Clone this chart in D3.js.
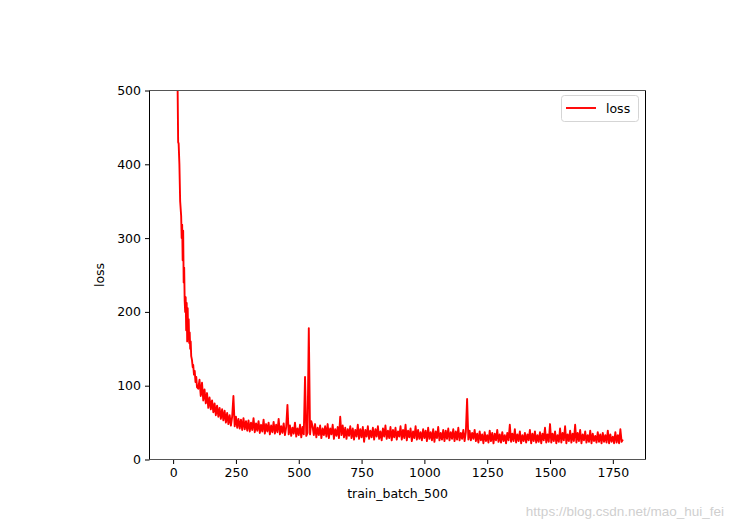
<!DOCTYPE html>
<html><head><meta charset="utf-8">
<script src="https://cdn.jsdelivr.net/npm/d3@7"></script>
<style>body{margin:0;background:#fff}svg{display:block}text{font-family:"DejaVu Sans",sans-serif}</style>
</head><body>
<svg id="c" width="733" height="528"></svg>
<script>
// early steep part (explicit batch indices)
const earlyBatch = [0,10,18,20,22,25,28,32,34,36,38,40,42,44,46,48,50,52,54,56,58,60,62,64,66,68,70,72,75,78,80,83,86,89,92,95];
const earlyLoss  = [900,620,500,430,428,400,350,330,300,318,270,310,240,260,215,200,220,175,212,160,205,165,190,158,172,150,160,140,135,125,128,115,120,105,112,98];
// batches 100..1790, step 5
const laterStart = 100, laterStep = 5;
const laterLoss = [
 96,108,86,104,80,95,76,90,70,84,68,80,64,76,60,73,58,70,55,68,
 53,66,50,63,48,60,46,58,86,45,58,43,55,42,54,40,56,41,52,39,
 53,38,50,40,56,37,49,39,52,36,47,38,54,35,48,38,50,34,46,37,
 51,35,47,37,55,34,45,36,49,33,44,74,34,46,32,43,35,50,31,42,
 33,47,30,44,34,112,32,36,178,34,52,45,33,48,30,43,33,46,29,42,
 33,45,31,48,29,42,34,47,28,41,32,44,29,58,33,46,30,43,28,41,
 32,45,29,42,27,40,31,47,28,41,30,44,24,40,31,45,28,39,30,43,
 27,41,31,45,28,38,26,42,31,46,28,39,29,44,26,40,30,43,27,38,
 31,45,27,40,29,47,26,39,30,42,25,38,29,45,27,40,28,37,26,41,
 29,39,25,43,28,37,26,41,24,38,29,44,26,36,27,40,25,39,28,42,
 26,37,28,41,25,38,27,43,26,36,28,40,25,37,82,27,39,26,36,28,
 40,25,35,23,38,26,34,22,37,25,33,23,39,25,36,22,35,26,40,24,
 34,23,37,25,33,22,36,26,47,24,35,25,41,23,34,25,38,22,33,25,
 36,23,34,26,40,22,35,25,38,23,33,24,37,22,35,26,43,23,34,24,
 48,23,35,25,38,22,33,24,42,23,36,26,45,22,34,25,39,23,35,25,
 47,23,36,25,40,22,34,26,38,23,33,24,39,22,35,25,32,23,37,24,
 34,22,36,24,33,23,39,22,34,24,31,22,37,23,33,22,41,24,27
];
const xTicks = [0,250,500,750,1000,1250,1500,1750];
const yTicks = [0,100,200,300,400,500];
const seriesName = "loss";

const data = earlyBatch.map((b,i)=>({x:b,y:earlyLoss[i]}))
  .concat(laterLoss.map((v,i)=>({x:laterStart+i*laterStep,y:v})));

const L=149.5,R=645.5,T=90.5,B=459.5;
const x = d3.scaleLinear().domain([-94,1880]).range([L,R]);
const y = d3.scaleLinear().domain([0,500]).range([B,T]);
const svg = d3.select("#c");

svg.append("clipPath").attr("id","clip").append("rect")
  .attr("x",L).attr("y",T).attr("width",R-L).attr("height",B-T);

svg.append("path").datum(data)
  .attr("clip-path","url(#clip)")
  .attr("fill","none").attr("stroke","#ff0000").attr("stroke-width",1.9)
  .attr("stroke-linejoin","round")
  .attr("d",d3.line().x(d=>x(d.x)).y(d=>y(d.y)));

const fs = 12.5;
const xa = svg.append("g").attr("transform",`translate(0,${B})`)
  .call(d3.axisBottom(x).tickValues(xTicks).tickSize(4.5).tickPadding(4).tickFormat(d3.format("d")));
const ya = svg.append("g").attr("transform",`translate(${L},0)`)
  .call(d3.axisLeft(y).tickValues(yTicks).tickSize(4.5).tickPadding(4).tickFormat(d3.format("d")));
[xa,ya].forEach(g=>{
  g.select(".domain").remove();
  g.selectAll("line").attr("stroke","#000").attr("stroke-width",1);
  g.selectAll("text").attr("fill","#000").style("font-size",fs+"px").style("font-family","DejaVu Sans");
});

// spines
svg.append("line").attr("x1",L).attr("x2",R).attr("y1",T).attr("y2",T).attr("stroke","#555").attr("stroke-width",1.2);
svg.append("line").attr("x1",L).attr("x2",R).attr("y1",B).attr("y2",B).attr("stroke","#555").attr("stroke-width",1.2);
svg.append("line").attr("x1",L).attr("x2",L).attr("y1",T).attr("y2",B).attr("stroke","#000").attr("stroke-width",1);
svg.append("line").attr("x1",R).attr("x2",R).attr("y1",T).attr("y2",B).attr("stroke","#000").attr("stroke-width",1);

svg.append("text").attr("x",(L+R)/2).attr("y",498).attr("text-anchor","middle")
  .style("font-size",fs+"px").text("train_batch_500");
svg.append("text").attr("transform",`translate(104,${(T+B)/2}) rotate(-90)`).attr("text-anchor","middle")
  .style("font-size",fs+"px").text("loss");

// legend
const lg = svg.append("g");
lg.append("rect").attr("x",561.5).attr("y",95.5).attr("width",77).attr("height",26).attr("rx",3)
  .attr("fill","#fff").attr("fill-opacity",0.8).attr("stroke","#d5d5d5");
lg.append("line").attr("x1",566).attr("x2",596).attr("y1",108).attr("y2",108).attr("stroke","#ff0000").attr("stroke-width",1.9);
lg.append("text").attr("x",606).attr("y",112.5).style("font-size",fs+"px").text(seriesName);

// watermark
svg.append("text").attr("x",724).attr("y",516).attr("text-anchor","end")
  .attr("fill","#cfcfcf").style("font-size","13.5px").style("font-family","Liberation Sans, Arial, sans-serif")
  .text("https://blog.csdn.net/mao_hui_fei");
</script>
</body></html>
